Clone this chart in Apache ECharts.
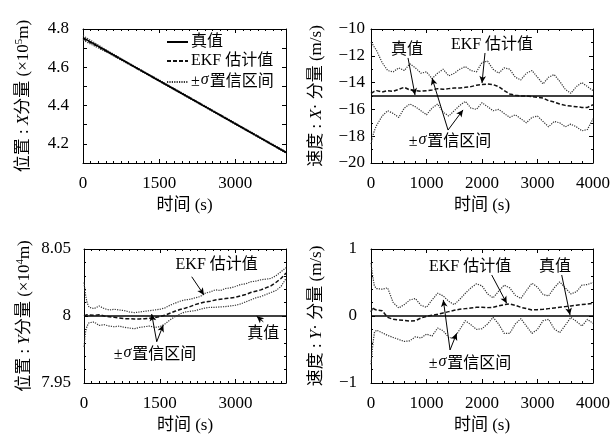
<!DOCTYPE html>
<html><head><meta charset="utf-8">
<script src="https://cdn.jsdelivr.net/npm/echarts@6/dist/echarts.min.js"></script>
<style>html,body{margin:0;padding:0;background:#fff}#c{width:615px;height:441px}</style>
</head><body><div id="c"></div>
<script>
// ---------- data ----------
const tPos = [0,500,1000,1500,2000,2500,3000,3500,4000];
const posXTrue = [4.755,4.680,4.605,4.530,4.455,4.380,4.305,4.230,4.155];
const posXEst  = [4.750,4.678,4.604,4.530,4.456,4.381,4.306,4.231,4.156];
const posXUp   = [4.765,4.684,4.608,4.534,4.459,4.384,4.309,4.234,4.159];
const posXLo   = [4.742,4.674,4.601,4.527,4.452,4.377,4.302,4.227,4.152];

const tEnds = [0,4000];
const velXTrue = [-15,-15];
const posYTrue = [8,8];
const velYTrue = [0,0];

const t = [0,30,60,100,200,300,400,500,600,700,800,900,1000,1100,1200,1300,1400,1500,1600,1700,1800,1900,2000,
  2100,2200,2300,2400,2500,2600,2700,2800,2900,3000,3100,3200,3300,3400,3500,3600,3700,3800,3900,4000];

const velXEst = [-14.8,-14.7,-14.65,-14.6,-14.7,-14.6,-14.65,-14.5,-14.35,-14.55,-14.6,-14.65,-14.6,-14.55,-14.45,-14.5,-14.45,-14.4,-14.4,-14.35,-14.3,-14.2,-14.15,-14.1,-14.15,-14.3,-14.6,-14.85,-14.95,-15.0,-15.0,-15.05,-15.1,-15.15,-15.35,-15.45,-15.6,-15.7,-15.75,-15.8,-15.85,-15.85,-15.65];
const velXUp = [-11.0,-11.15,-11.35,-11.6,-12.5,-13.1,-13.2,-12.9,-13.1,-12.6,-12.9,-13.3,-13.2,-13.7,-13.3,-13.0,-13.5,-13.3,-13.0,-12.8,-13.1,-13.2,-12.5,-12.4,-13.0,-13.3,-12.9,-13.0,-13.6,-13.8,-13.3,-13.1,-13.6,-14.1,-13.6,-13.4,-13.9,-14.5,-14.8,-14.3,-14.0,-14.3,-14.6];
const velXLo = [-18.6,-18.0,-17.6,-17.2,-16.5,-16.1,-16.3,-16.6,-15.9,-15.6,-15.8,-16.1,-16.4,-15.9,-15.6,-16.2,-16.5,-16.1,-15.7,-15.4,-15.9,-16.0,-15.5,-15.8,-16.1,-16.0,-16.3,-16.6,-16.4,-16.7,-17.0,-16.6,-16.5,-16.9,-17.3,-16.9,-17.0,-17.3,-17.1,-17.3,-17.6,-17.5,-16.7];

const posYUp = [8.025,8.016,8.010,
  8.0065,8.0055,8.0075,8.0055,8.0045,8.005,8.0045,8.004,8.003,8.0025,
  8.003,8.0035,8.004,8.0045,8.005,8.006,8.008,8.0095,8.011,8.012,
  8.0125,8.0135,8.0145,8.017,8.018,8.0195,8.019,8.0205,8.021,8.022,
  8.0235,8.024,8.0255,8.026,8.027,8.0275,8.028,8.030,8.033,8.036];
const posYEst = [8.0,8.0005,8.001,
  8.0008,8.0005,8.001,8.0,7.9995,7.999,7.9985,7.998,7.998,7.9978,
  7.9978,7.998,7.9983,7.9988,7.9995,8.0005,8.002,8.0035,8.0048,8.0058,
  8.007,8.0085,8.0095,8.0105,8.011,8.012,8.0125,8.013,8.0135,8.014,
  8.015,8.016,8.0175,8.0185,8.0195,8.021,8.0225,8.025,8.028,8.032];
const posYLo = [7.977,7.988,7.9925,
  7.995,7.9955,7.993,7.9935,7.9925,7.992,7.9925,7.9915,7.991,7.9905,
  7.9915,7.992,7.9925,7.9915,7.992,7.994,7.997,7.9995,8.0015,8.003,
  8.0035,8.004,8.005,8.006,8.0065,8.0065,8.0068,8.007,8.0075,8.008,
  8.009,8.0105,8.012,8.0135,8.0145,8.016,8.0175,8.019,8.022,8.028];

const velYEst = [0.06,0.13,0.1,
  0.09,0.08,-0.02,-0.05,-0.06,-0.065,-0.075,-0.07,-0.03,-0.005,
  0.01,0.025,0.045,0.065,0.085,0.1,0.11,0.12,0.13,0.13,
  0.125,0.13,0.15,0.17,0.18,0.16,0.13,0.11,0.09,0.095,
  0.1,0.11,0.12,0.13,0.14,0.15,0.16,0.17,0.18,0.19];
const velYUp = [0.79,0.6,0.45,
  0.41,0.40,0.42,0.2,0.12,0.17,0.24,0.26,0.16,0.13,
  0.24,0.34,0.3,0.22,0.17,0.25,0.34,0.42,0.48,0.45,
  0.33,0.27,0.37,0.46,0.42,0.31,0.26,0.38,0.49,0.43,
  0.32,0.3,0.42,0.51,0.42,0.33,0.36,0.46,0.47,0.5];
const velYLo = [-0.72,-0.45,-0.25,
  -0.21,-0.25,-0.29,-0.32,-0.35,-0.38,-0.37,-0.31,-0.33,-0.27,
  -0.3,-0.18,-0.22,-0.32,-0.33,-0.2,-0.07,-0.13,-0.2,-0.19,
  -0.12,-0.02,-0.12,-0.26,-0.26,-0.12,-0.04,-0.15,-0.26,-0.2,
  -0.07,-0.05,-0.19,-0.25,-0.14,-0.02,-0.08,-0.15,-0.05,-0.11];

const xTicksLeft = [0,1500,3000];
const xTicksRight = [0,1000,2000,3000,4000];

// ---------- chart ----------
const FONT = "'Liberation Serif','DejaVu Serif','Noto Sans CJK SC',serif";
const CJK = "'Liberation Serif','Noto Sans CJK SC',serif";
const pairs = (xs, ys) => xs.map((x, i) => [x, ys[i]]);
const minus = v => String(v).replace('-', '\u2212');

const grids = [
  {left: 83, top: 29, width: 203, height: 134},
  {left: 371, top: 29, width: 222, height: 134},
  {left: 84, top: 249, width: 202, height: 134},
  {left: 371, top: 249, width: 222, height: 134}
];

const richName = {
  a: {fontFamily: CJK, fontSize: 17, color: '#000'},
  i: {fontFamily: FONT, fontSize: 17, fontStyle: 'italic', color: '#000'},
  s: {fontFamily: FONT, fontSize: 11, color: '#000', verticalAlign: 'top', padding: [0, 0, 8, 0]}
};
const richAnn = {
  a: {fontFamily: CJK, fontSize: 16, color: '#000'},
  s: {fontFamily: FONT, fontSize: 16, fontStyle: 'italic', color: '#000', padding: [0, 1, 4, 1]}
};

function xAx(gi, pos, o) {
  const bottom = pos === 'bottom';
  return {
    type: 'value', gridIndex: gi, position: pos, min: 0, max: 4000, interval: o.interval,
    axisLine: {show: true, onZero: false, lineStyle: {color: '#000', width: 1}},
    axisTick: {show: true, inside: true, length: 4, lineStyle: {color: '#000'}},
    minorTick: {show: true, splitNumber: o.minor, length: 2, lineStyle: {color: '#000'}},
    splitLine: {show: false},
    axisLabel: bottom ? {show: true, margin: 12, fontFamily: FONT, fontSize: 17, color: '#000',
      customValues: o.ticks, formatter: v => String(v)} : {show: false},
    name: bottom ? '{a|时间 (s)}' : '', nameLocation: 'middle', nameGap: 34,
    nameTextStyle: {rich: richName}
  };
}
function yAx(gi, pos, o) {
  const left = pos === 'left';
  return {
    type: 'value', gridIndex: gi, position: pos, min: o.min, max: o.max, interval: o.interval,
    axisLine: {show: true, onZero: false, lineStyle: {color: '#000', width: 1}},
    axisTick: {show: true, inside: true, length: 4, lineStyle: {color: '#000'}},
    minorTick: {show: o.minor > 0, splitNumber: o.minor || 1, length: 2, lineStyle: {color: '#000'}},
    splitLine: {show: false},
    axisLabel: left ? {show: true, margin: o.margin, fontFamily: FONT, fontSize: 17, color: '#000',
      formatter: o.fmt} : {show: false},
    name: left ? o.name : '', nameLocation: 'middle', nameGap: o.nameGap, nameRotate: 90,
    nameTextStyle: {rich: richName}
  };
}

const xAxes = [], yAxes = [];
const xo = [
  {interval: 1500, minor: 10, ticks: xTicksLeft},
  {interval: 1000, minor: 5, ticks: xTicksRight},
  {interval: 1500, minor: 10, ticks: xTicksLeft},
  {interval: 1000, minor: 5, ticks: xTicksRight}
];
const yo = [
  {min: 4.1, max: 4.8, interval: 0.1, minor: 0, margin: 14, nameGap: 50,
   fmt: v => (Math.round(v * 10) % 2 === 0 ? v.toFixed(1) : ''),
   name: '{a|位置 : }{i|X}{a|分量 (×10}{s|5}{a|m)}'},
  {min: -20, max: -10, interval: 2, minor: 2, margin: 6, nameGap: 46, fmt: minus,
   name: '{a|速度 : }{i|X}{a|· 分量 (m/s)}'},
  {min: 7.95, max: 8.05, interval: 0.05, minor: 5, margin: 13, nameGap: 50,
   fmt: v => (Math.abs(v - 8) < 1e-9 ? '8' : v.toFixed(2)),
   name: '{a|位置 : }{i|Y}{a|分量 (×10}{s|4}{a|m)}'},
  {min: -1, max: 1, interval: 1, minor: 5, margin: 14, nameGap: 46, fmt: minus,
   name: '{a|速度 : }{i|Y}{a|· 分量 (m/s)}'}
];
for (let g = 0; g < 4; g++) {
  xAxes.push(xAx(g, 'bottom', xo[g]));
  xAxes.push(xAx(g, 'top', xo[g]));
  yAxes.push(yAx(g, 'left', yo[g]));
  yAxes.push(yAx(g, 'right', yo[g]));
}

const trueStyle = {color: '#000', width: 1.6, type: 'solid'};
const estStyle = {color: '#111', width: 1.5, type: [4, 2]};
const bndStyle = {color: '#333', width: 1.2, type: [1.2, 1.2]};

function ser(g, name, data, style, extra) {
  return Object.assign({
    type: 'line', name, xAxisIndex: 2 * g, yAxisIndex: 2 * g, data, symbol: 'none',
    lineStyle: style, itemStyle: {color: style.color}, silent: true, z: 3
  }, extra || {});
}
function ann(list) {
  return {
    markPoint: {
      silent: true, symbol: 'circle', symbolSize: 1, itemStyle: {color: 'rgba(0,0,0,0)'},
      data: list.texts.map(a => ({coord: a.c, label: {show: true, position: 'inside',
        formatter: a.txt, rich: richAnn}}))
    },
    markLine: {
      silent: true, symbol: ['none', 'arrow'], symbolSize: [5, 7],
      lineStyle: {color: '#000', width: 1, type: 'solid'}, label: {show: false},
      data: list.arrows.map(a => [{coord: a[0]}, {coord: a[1]}])
    }
  };
}
const SIG = '{a|±}{s|σ}{a|置信区间}';

const series = [
  ser(0, '真值', pairs(tPos, posXTrue), trueStyle, {z: 5}),
  ser(0, 'EKF 估计值', pairs(tPos, posXEst), estStyle),
  ser(0, '±σ置信区间', pairs(tPos, posXUp), bndStyle),
  ser(0, '±σ置信区间', pairs(tPos, posXLo), bndStyle),

  ser(1, 'vxTrue', pairs(tEnds, velXTrue), trueStyle, ann({
    texts: [{c: [650, -11.57], txt: '{a|真值}'}, {c: [2180, -11.19], txt: '{a|EKF 估计值}'},
            {c: [1424, -18.43], txt: SIG}],
    arrows: [[[667, -12.16], [793, -14.93]], [[2054, -11.79], [2000, -14.03]],
             [[1388, -17.54], [1100, -13.66]], [[1388, -17.54], [1658, -16.04]]]
  })),
  ser(1, 'vxEst', pairs(t, velXEst), estStyle),
  ser(1, 'vxUp', pairs(t, velXUp), bndStyle),
  ser(1, 'vxLo', pairs(t, velXLo), bndStyle),

  ser(2, 'pyTrue', pairs(tEnds, posYTrue), trueStyle, ann({
    texts: [{c: [2627, 8.038], txt: '{a|EKF 估计值}'}, {c: [3550, 7.987], txt: '{a|真值}'},
            {c: [1406, 7.971], txt: SIG}],
    arrows: [[[2133, 8.0293], [2376, 8.0157]], [[3550, 7.9957], [3420, 7.9998]],
             [[1440, 7.9808], [1340, 8.0015]], [[1440, 7.9808], [1570, 7.9933]]]
  })),
  ser(2, 'pyEst', pairs(t, posYEst), estStyle),
  ser(2, 'pyUp', pairs(t, posYUp), bndStyle),
  ser(2, 'pyLo', pairs(t, posYLo), bndStyle),

  ser(3, 'vyTrue', pairs(tEnds, velYTrue), trueStyle, ann({
    texts: [{c: [1784, 0.736], txt: '{a|EKF 估计值}'}, {c: [3316, 0.736], txt: '{a|真值}'},
            {c: [1784, -0.706], txt: SIG}],
    arrows: [[[2175, 0.612], [2445, 0.19]], [[3436, 0.612], [3586, 0.015]],
             [[1424, -0.507], [1303, 0.24]], [[1424, -0.507], [1544, -0.258]]]
  })),
  ser(3, 'vyEst', pairs(t, velYEst), estStyle),
  ser(3, 'vyUp', pairs(t, velYUp), bndStyle),
  ser(3, 'vyLo', pairs(t, velYLo), bndStyle)
];

const chart = echarts.init(document.getElementById('c'), null, {renderer: 'canvas'});
chart.setOption({
  animation: false,
  backgroundColor: '#fff',
  grid: grids.map(g => Object.assign({show: false, containLabel: false}, g)),
  xAxis: xAxes,
  yAxis: yAxes,
  legend: {
    data: ['真值', 'EKF 估计值', '±σ置信区间'],
    orient: 'vertical', left: 166, top: 34, itemWidth: 21, itemHeight: 12, itemGap: 3,
    padding: 0, selectedMode: false, backgroundColor: 'transparent',
    itemStyle: {color: 'rgba(0,0,0,0)', borderColor: 'rgba(0,0,0,0)', borderWidth: 0},
    formatter: n => (n.charAt(0) === '±' ? SIG : '{a|' + n + '}'),
    textStyle: {rich: richAnn, padding: [0, 0, 0, -2]}
  },
  series
});
</script></body></html>
